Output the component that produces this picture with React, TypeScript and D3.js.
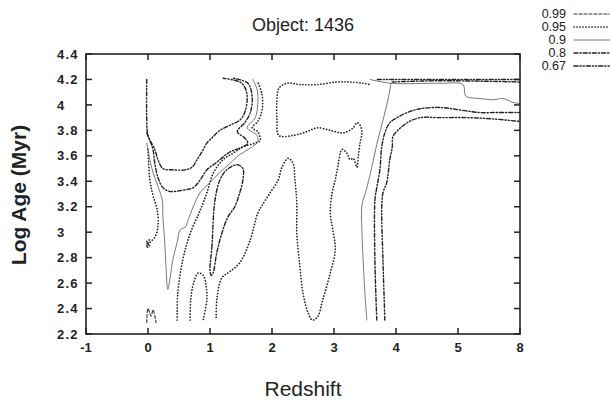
import * as d3 from "d3";
import * as React from "react";

// confidence levels shown in the legend
const levels = ["0.99", "0.95", "0.9", "0.8", "0.67"];
const xTicks = [-1, 0, 1, 2, 3, 4, 5, 8];
const yTicks = [2.2, 2.4, 2.6, 2.8, 3, 3.2, 3.4, 3.6, 3.8, 4, 4.2, 4.4];

// contour paths as [redshift, log age]
const c99Spike = [[-0.02, 2.29], [0, 2.4], [0.05, 2.34], [0.08, 2.39], [0.13, 2.29]];

const c95Left = [[0, 3.65], [0.03, 3.41], [0.08, 3.29], [0.15, 3.17], [0.16, 3.04], [0.11, 2.96], [0.03, 2.92], [-0.02, 2.89], [0.02, 2.94], [-0.03, 2.92], [0.03, 2.89], [-0.02, 2.88]];
const c95Inner = [[0.47, 2.31], [0.48, 2.52], [0.56, 2.78], [0.68, 2.99], [0.84, 3.17], [0.95, 3.31], [1.05, 3.46], [1.21, 3.57], [1.37, 3.62], [1.53, 3.67], [1.73, 3.7], [1.81, 3.72], [1.77, 3.79], [1.68, 3.82], [1.77, 3.87], [1.84, 3.96], [1.84, 4.08], [1.77, 4.18]];
const c95Arch = [[0.68, 2.31], [0.69, 2.47], [0.73, 2.59], [0.81, 2.68], [0.89, 2.66], [0.94, 2.57], [0.95, 2.47], [0.89, 2.31]];
const c95Long = [[1.1, 2.33], [1.11, 2.47], [1.19, 2.64], [1.32, 2.69], [1.48, 2.76], [1.65, 2.94], [1.77, 3.15], [1.84, 3.21], [1.97, 3.31], [2.1, 3.41], [2.16, 3.51], [2.26, 3.58], [2.34, 3.54], [2.37, 3.41], [2.4, 3.23], [2.4, 2.99], [2.45, 2.73], [2.5, 2.52], [2.58, 2.37], [2.65, 2.31], [2.73, 2.33], [2.82, 2.47], [2.94, 2.68], [3.02, 2.86], [2.98, 3.02], [2.94, 3.15], [2.97, 3.31], [3.02, 3.41], [3.06, 3.51], [3.13, 3.65], [3.21, 3.62], [3.26, 3.57], [3.31, 3.58], [3.37, 3.51], [3.39, 3.59], [3.42, 3.7], [3.45, 3.78], [3.42, 3.84], [3.37, 3.86], [3.31, 3.82], [3.15, 3.78], [2.94, 3.8], [2.73, 3.82], [2.56, 3.79], [2.34, 3.76], [2.11, 3.76], [2.08, 3.88], [2.08, 4.04], [2.11, 4.13], [2.24, 4.17], [2.45, 4.16], [2.73, 4.16], [3.05, 4.18], [3.26, 4.18], [3.47, 4.17], [3.58, 4.16]];

const c90Left = [[-0.02, 3.7], [0.03, 3.57], [0.08, 3.47], [0.16, 3.36], [0.23, 3.25], [0.24, 3.12], [0.27, 2.92], [0.29, 2.73], [0.31, 2.57], [0.32, 2.55], [0.35, 2.62], [0.4, 2.78], [0.47, 2.92], [0.52, 3.02], [0.6, 3.04], [0.65, 3.1], [0.73, 3.2], [0.84, 3.31], [1, 3.39], [1.16, 3.47], [1.32, 3.54], [1.48, 3.61], [1.65, 3.66], [1.77, 3.71], [1.76, 3.76], [1.6, 3.82], [1.73, 3.9], [1.77, 4.01], [1.76, 4.12], [1.69, 4.2]];
const c90Top = [[8, 4.01], [7.66, 4.02], [7.18, 4.05], [6.69, 4.04], [6.06, 4.05], [5.48, 4.06], [5.34, 4.08], [5.24, 4.16], [4.71, 4.17], [3.92, 4.17], [3.58, 4.2]];
const c90Right = [[3.92, 4.17], [3.87, 4.04], [3.79, 3.88], [3.69, 3.69], [3.6, 3.49], [3.52, 3.33], [3.45, 3.21], [3.45, 3.02], [3.47, 2.78], [3.5, 2.51], [3.53, 2.31]];

const c80Left = [[-0.02, 3.78], [0.03, 3.72], [0.08, 3.65], [0.11, 3.54], [0.16, 3.43], [0.24, 3.35], [0.35, 3.32], [0.56, 3.33], [0.73, 3.35], [0.84, 3.41], [0.95, 3.49], [1.11, 3.55], [1.32, 3.63], [1.53, 3.67], [1.61, 3.7], [1.56, 3.74], [1.44, 3.79], [1.56, 3.86], [1.65, 3.94], [1.68, 4.06], [1.61, 4.17], [1.37, 4.21]];
const c80Loop = [[1, 2.7], [1.03, 2.88], [1.08, 3.25], [1.16, 3.41], [1.27, 3.49], [1.44, 3.53], [1.53, 3.5], [1.53, 3.41], [1.48, 3.31], [1.4, 3.2], [1.29, 3.12], [1.19, 2.99], [1.11, 2.84], [1.05, 2.68], [1.02, 2.66]];
const c80Right = [[3.69, 2.31], [3.66, 2.78], [3.66, 3.25], [3.69, 3.35], [3.74, 3.49], [3.77, 3.67], [3.82, 3.78], [3.9, 3.86], [4.02, 3.9], [4.18, 3.94], [4.39, 3.97], [4.71, 3.98], [5.1, 3.96], [6.06, 3.94], [6.89, 3.94], [8, 3.94]];
const c80Top = [[3.94, 4.18], [4.7, 4.19], [8, 4.18]];

const c67Left = [[-0.02, 4.2], [-0.02, 3.88], [0, 3.76], [0.11, 3.65], [0.16, 3.57], [0.24, 3.5], [0.4, 3.49], [0.6, 3.49], [0.71, 3.51], [0.79, 3.57], [0.87, 3.63], [0.95, 3.7], [1.05, 3.75], [1.16, 3.8], [1.32, 3.84], [1.48, 3.88], [1.56, 3.94], [1.6, 4.06], [1.56, 4.14], [1.48, 4.18], [1.21, 4.21]];
const c67Right = [[3.82, 2.31], [3.79, 2.78], [3.77, 3.2], [3.79, 3.31], [3.85, 3.39], [3.9, 3.57], [3.94, 3.67], [3.95, 3.75], [4.03, 3.8], [4.18, 3.86], [4.39, 3.9], [4.71, 3.9], [5.44, 3.9], [6.69, 3.89], [8, 3.87]];
const c67Top = [[3.7, 4.2], [5.5, 4.2], [8, 4.2]];

const contours = [
  { level: "0.99", pts: c99Spike, closed: false },
  { level: "0.95", pts: c95Left, closed: false },
  { level: "0.95", pts: c95Inner, closed: false },
  { level: "0.95", pts: c95Arch, closed: false },
  { level: "0.95", pts: c95Long, closed: false },
  { level: "0.9", pts: c90Left, closed: false },
  { level: "0.9", pts: c90Top, closed: false },
  { level: "0.9", pts: c90Right, closed: false },
  { level: "0.8", pts: c80Left, closed: false },
  { level: "0.8", pts: c80Loop, closed: true },
  { level: "0.8", pts: c80Right, closed: false },
  { level: "0.8", pts: c80Top, closed: false },
  { level: "0.67", pts: c67Left, closed: false },
  { level: "0.67", pts: c67Right, closed: false },
  { level: "0.67", pts: c67Top, closed: false },
];

const lineStyle = {
  "0.99": { dash: "3 2", width: 1.1, color: "#333" },
  "0.95": { dash: "0.1 2.9", width: 1.7, color: "#222" },
  "0.9": { dash: "none", width: 0.8, color: "#555" },
  "0.8": { dash: "4 2 1.2 2", width: 1.4, color: "#222" },
  "0.67": { dash: "4 2 1.2 2 1.2 2", width: 1.4, color: "#222" },
};

const margin = { top: 54, right: 90, bottom: 66, left: 86 };
const width = 610;
const height = 400;

export default function App() {
  const x0 = margin.left;
  const x1 = width - margin.right;
  const y0 = margin.top;
  const y1 = height - margin.bottom;

  // evenly spaced ticks, last interval 5..8 squeezed into one step
  const x = d3
    .scaleLinear()
    .domain(xTicks)
    .range(xTicks.map((_, i) => x0 + (i * (x1 - x0)) / (xTicks.length - 1)));
  const y = d3.scaleLinear().domain([2.2, 4.4]).range([y1, y0]);

  const line = d3
    .line<number[]>()
    .x((d) => x(d[0]))
    .y((d) => y(d[1]))
    .curve(d3.curveCatmullRom.alpha(0.5));
  const loop = d3
    .line<number[]>()
    .x((d) => x(d[0]))
    .y((d) => y(d[1]))
    .curve(d3.curveCatmullRomClosed.alpha(0.5));

  const font = "'Liberation Sans', Arial, Helvetica, sans-serif";

  return (
    <svg
      width={width}
      height={height}
      style={{ position: "absolute", left: 0, top: 0, background: "#fff" }}
      fontFamily={font}
    >
      <rect x={0} y={0} width={width} height={height} fill="#fff" />

      <text x={303} y={31} fontSize={18} textAnchor="middle" fill="#222">
        Object: 1436
      </text>

      {/* contours */}
      <g fill="none" strokeLinecap="round" strokeLinejoin="round">
        {contours.map((c, i) => {
          const s = lineStyle[c.level];
          return (
            <path
              key={"c" + i}
              d={(c.closed ? loop : line)(c.pts) || ""}
              stroke={s.color}
              strokeWidth={s.width}
              strokeDasharray={s.dash}
            />
          );
        })}
      </g>

      {/* frame */}
      <rect x={x0} y={y0} width={x1 - x0} height={y1 - y0} fill="none" stroke="#222" strokeWidth={1.6} />

      {/* ticks on all four sides */}
      <g stroke="#222" strokeWidth={1.5}>
        {yTicks.map((t) => (
          <g key={"yt" + t}>
            <line x1={x0} x2={x0 + 6} y1={y(t)} y2={y(t)} />
            <line x1={x1} x2={x1 - 6} y1={y(t)} y2={y(t)} />
          </g>
        ))}
        {xTicks.map((t) => (
          <g key={"xt" + t}>
            <line x1={x(t)} x2={x(t)} y1={y1} y2={y1 - 6} />
            <line x1={x(t)} x2={x(t)} y1={y0} y2={y0 + 6} />
          </g>
        ))}
      </g>

      <g fontSize={13} fontWeight="bold" fill="#222">
        {yTicks.map((t) => (
          <text key={"yl" + t} x={57} y={y(t)} dy="0.36em" letterSpacing={1.2}>
            {d3.format("~g")(t)}
          </text>
        ))}
        {xTicks.map((t) => (
          <text key={"xl" + t} x={x(t)} y={352} textAnchor="middle">
            {t}
          </text>
        ))}
      </g>

      <text x={303} y={396} fontSize={21} textAnchor="middle" fill="#222">
        Redshift
      </text>
      <text
        transform="translate(26,195) rotate(-90)"
        fontSize={21}
        fontWeight="bold"
        textAnchor="middle"
        fill="#222"
      >
        Log Age (Myr)
      </text>

      {/* legend */}
      <g>
        {levels.map((lv, i) => {
          const s = lineStyle[lv];
          const by = 18 + i * 13;
          return (
            <g key={"lg" + lv}>
              <text x={566} y={by} fontSize={12.5} textAnchor="end" fill="#222">
                {lv}
              </text>
              <line
                x1={574}
                x2={610}
                y1={by - 4}
                y2={by - 4}
                stroke={s.color}
                strokeWidth={s.width}
                strokeDasharray={s.dash}
                strokeLinecap="round"
              />
            </g>
          );
        })}
      </g>
    </svg>
  );
}
